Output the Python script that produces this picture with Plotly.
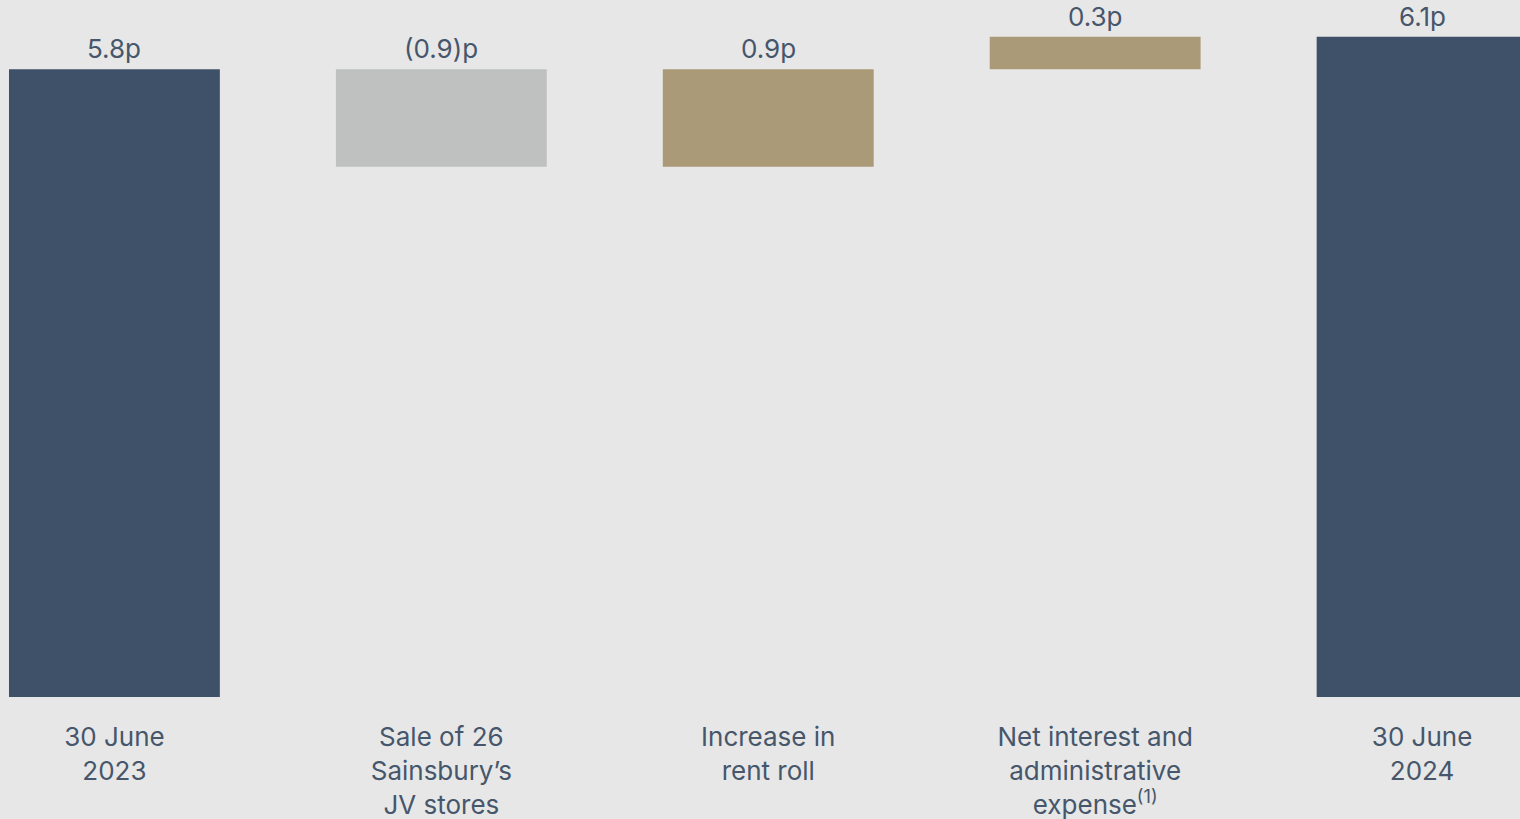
import plotly.graph_objects as go

# Waterfall steps (pence per share)
categories = [
    "30 June<br>2023",
    "Sale of 26<br>Sainsbury’s<br>JV stores",
    "Increase in<br>rent roll",
    "Net interest and<br>administrative<br>expense<sup>(1)</sup>",
    "30 June<br>2024",
]
values = [5.8, -0.9, 0.9, 0.3, 6.1]
measures = ["absolute", "relative", "relative", "relative", "total"]
value_labels = ["5.8p", "(0.9)p", "0.9p", "0.3p", "6.1p"]

NAVY = "#3f5168"
GREY = "#bfc1c0"
TAN = "#ab9a78"
TEXT = "#46566b"
BG = "#e7e7e7"
FONT = "Inter, Lato, sans-serif"

xs = list(range(len(categories)))

fig = go.Figure(
    go.Waterfall(
        x=xs,
        y=values,
        measure=measures,
        width=0.645,
        connector=dict(visible=False),
        totals=dict(marker=dict(color=NAVY)),
        increasing=dict(marker=dict(color=TAN)),
        decreasing=dict(marker=dict(color=GREY)),
        hoverinfo="skip",
    )
)

# Value labels sit just above the highest edge of each step
running = 0.0
for i, (v, m, lab) in enumerate(zip(values, measures, value_labels)):
    if m == "absolute" or m == "total":
        top = v if m == "absolute" else running
        running = top
    else:
        start = running
        running = running + v
        top = max(start, running)
    fig.add_annotation(
        x=i, y=top, text=lab, showarrow=False,
        yanchor="bottom", yshift=3,
        font=dict(family=FONT, size=26, color=TEXT),
    )

fig.update_layout(
    width=1520,
    height=819,
    margin=dict(l=0, r=0, t=0, b=122),
    paper_bgcolor=BG,
    plot_bgcolor=BG,
    showlegend=False,
    xaxis=dict(
        range=[-0.35, 4.2995],
        tickmode="array",
        tickvals=xs,
        ticktext=categories,
        tickfont=dict(family=FONT, size=26, color=TEXT),
        showgrid=False,
        zeroline=False,
        showline=False,
        ticks="",
        ticklabelstandoff=22,
        automargin=False,
    ),
    yaxis=dict(
        range=[0, 6.44],
        visible=False,
        showgrid=False,
        zeroline=False,
        automargin=False,
    ),
)

fig.write_html("out.html")
